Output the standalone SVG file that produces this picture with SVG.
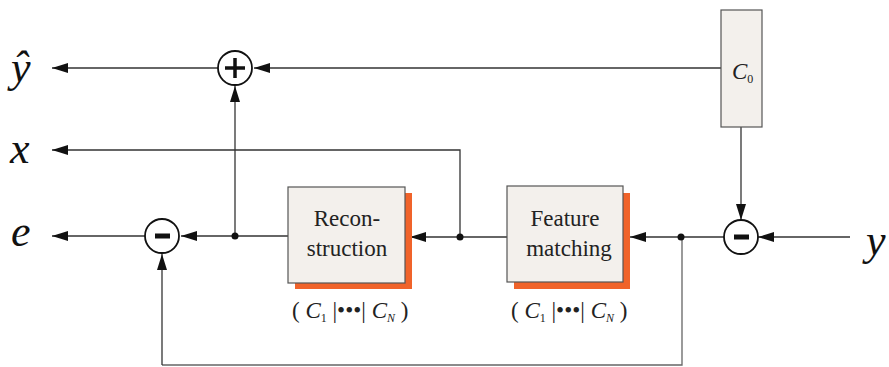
<svg xmlns="http://www.w3.org/2000/svg" width="889" height="367" viewBox="0 0 889 367" font-family="Liberation Serif">
<defs>
<marker id="ah" markerWidth="16" markerHeight="10" refX="16" refY="5" orient="auto" markerUnits="userSpaceOnUse">
<path d="M0,0 L16,5 L0,10 Z" fill="#111"/>
</marker>
</defs>
<style>
text{font-family:"Liberation Serif","Times New Roman",serif}
.ln{fill:none;stroke:#333;stroke-width:1.3}
.box{fill:#f3f0ec;stroke:#555;stroke-width:1.2}
.sh{fill:#f0632a}
.sum{fill:#fff;stroke:#111;stroke-width:1.8}
.dot{fill:#111}
</style>
<rect width="889" height="367" fill="#fff"/>

<g id="connectors">
<line class="ln" x1="721" y1="68" x2="254" y2="68" marker-end="url(#ah)"/>
<line class="ln" x1="218" y1="68" x2="52" y2="68" marker-end="url(#ah)"/>
<polyline class="ln" points="460,237 460,150 52,150" marker-end="url(#ah)"/>
<line class="ln" x1="235" y1="236" x2="235" y2="86" marker-end="url(#ah)"/>
<line class="ln" x1="288" y1="236" x2="181" y2="236" marker-end="url(#ah)"/>
<line class="ln" x1="145" y1="236" x2="52" y2="236" marker-end="url(#ah)"/>
<line class="ln" x1="507" y1="237" x2="410" y2="237" marker-end="url(#ah)"/>
<line class="ln" x1="724" y1="237" x2="630" y2="237" marker-end="url(#ah)"/>
<line class="ln" x1="850" y1="237" x2="758" y2="237" marker-end="url(#ah)"/>
<line class="ln" x1="741" y1="127" x2="741" y2="220" marker-end="url(#ah)"/>
<polyline class="ln" points="682,237 682,365 162,365" style="stroke:#666"/>
<line class="ln" x1="162" y1="365" x2="162" y2="254" marker-end="url(#ah)"/>
<circle class="dot" cx="235" cy="236" r="3.5"/>
<circle class="dot" cx="460" cy="237" r="3.5"/>
<circle class="dot" cx="681" cy="237" r="3.5"/>
</g>

<g id="plus">
<circle class="sum" cx="235" cy="68" r="17"/>
<line x1="225" y1="68" x2="245" y2="68" stroke="#111" stroke-width="3.5"/>
<line x1="235" y1="58" x2="235" y2="78" stroke="#111" stroke-width="3.5"/>
</g>

<g id="minus-e">
<circle class="sum" cx="162" cy="236" r="17"/>
<rect x="155" y="233.5" width="15" height="5" fill="#111"/>
</g>

<g id="minus-y">
<circle class="sum" cx="741" cy="237" r="17"/>
<rect x="734" y="234.5" width="15" height="5" fill="#111"/>
</g>

<g id="c0">
<rect class="box" x="721" y="10" width="41" height="117"/>
<text font-family="Liberation Serif" font-size="23" fill="#222" x="732" y="79"><tspan font-style="italic">C</tspan><tspan font-size="12" dy="4">0</tspan></text>
</g>

<g id="reconstruction">
<rect class="sh" x="295" y="193" width="117" height="96"/>
<rect class="box" x="288" y="187" width="117" height="96"/>
<text font-family="Liberation Serif" font-size="23" fill="#222" x="347" y="226" text-anchor="middle">Recon-</text>
<text font-family="Liberation Serif" font-size="23" fill="#222" x="347" y="256" text-anchor="middle">struction</text>
<text font-family="Liberation Serif" font-size="23" fill="#222" x="292" y="318">( <tspan font-style="italic">C</tspan><tspan font-size="12" dy="4">1</tspan><tspan dy="-4"> |&#8226;&#8226;&#8226;| </tspan><tspan font-style="italic">C</tspan><tspan font-size="12" dy="4" font-style="italic">N</tspan><tspan dy="-4"> )</tspan></text>
</g>

<g id="feature-matching">
<rect class="sh" x="514" y="193" width="116" height="96"/>
<rect class="box" x="507" y="186" width="116" height="96"/>
<text font-family="Liberation Serif" font-size="23" fill="#222" x="565" y="226" text-anchor="middle">Feature</text>
<text font-family="Liberation Serif" font-size="23" fill="#222" x="569" y="256" text-anchor="middle">matching</text>
<text font-family="Liberation Serif" font-size="23" fill="#222" x="511" y="318">( <tspan font-style="italic">C</tspan><tspan font-size="12" dy="4">1</tspan><tspan dy="-4"> |&#8226;&#8226;&#8226;| </tspan><tspan font-style="italic">C</tspan><tspan font-size="12" dy="4" font-style="italic">N</tspan><tspan dy="-4"> )</tspan></text>
</g>

<g id="labels">
<text font-family="Liberation Serif" font-style="italic" font-size="44" fill="#111" x="11" y="82">&#375;</text>
<text font-family="Liberation Serif" font-style="italic" font-size="44" fill="#111" x="10" y="163">x</text>
<text font-family="Liberation Serif" font-style="italic" font-size="44" fill="#111" x="11" y="246">e</text>
<text font-family="Liberation Serif" font-style="italic" font-size="44" fill="#111" x="866" y="255">y</text>
</g>
</svg>
